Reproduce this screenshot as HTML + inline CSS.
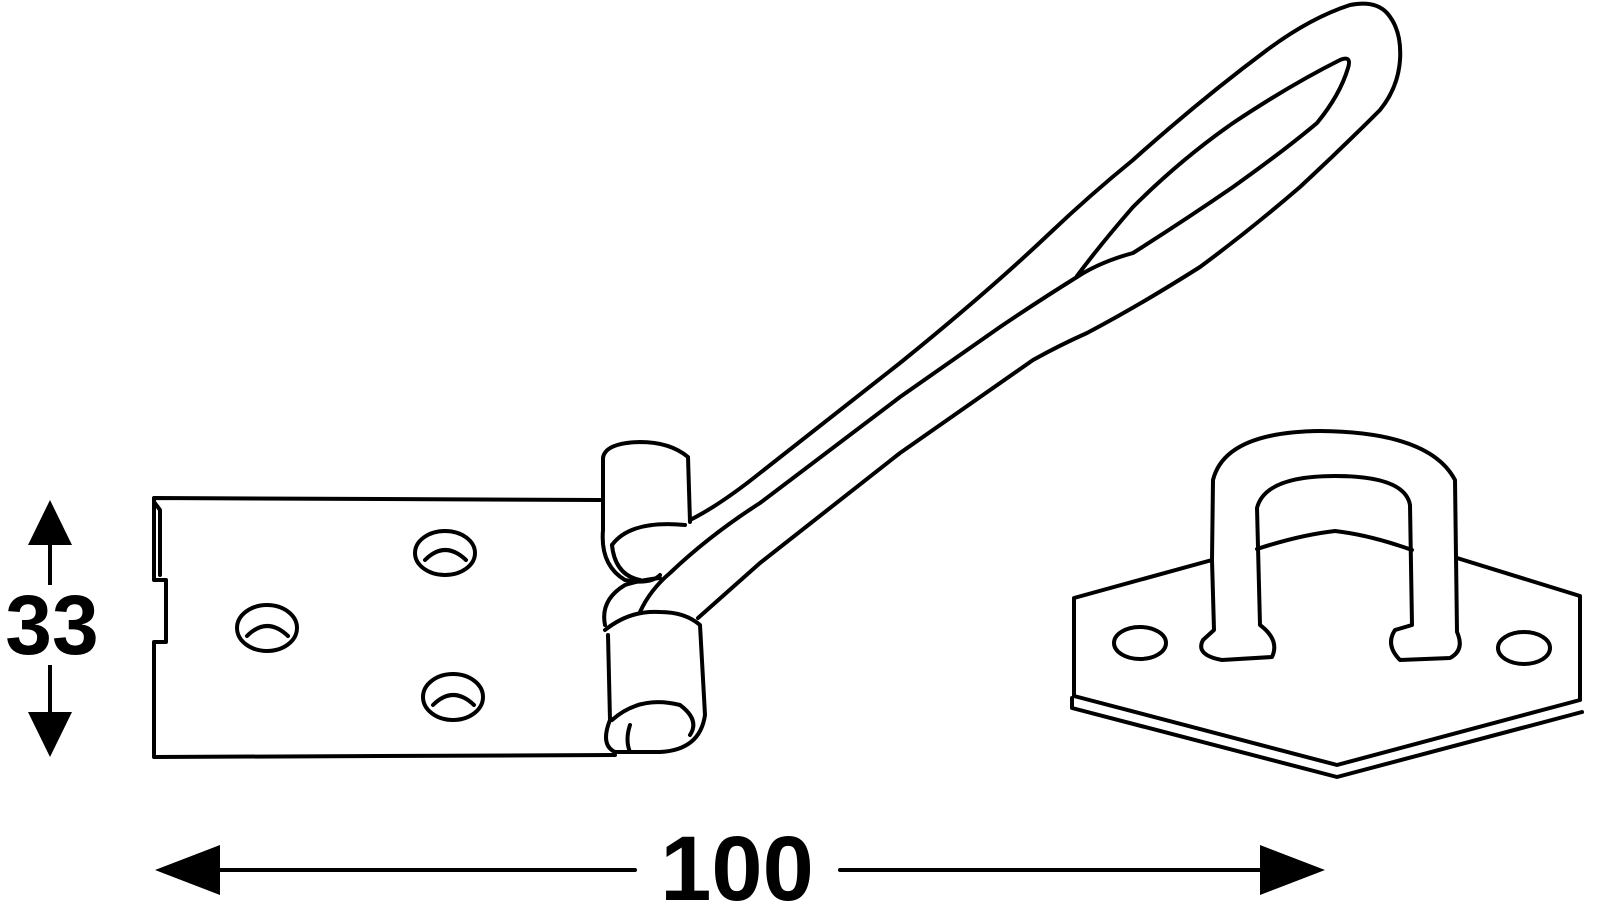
<!DOCTYPE html>
<html><head><style>html,body{margin:0;padding:0;background:#fff}svg{display:block}</style></head>
<body>
<svg width="1600" height="923" viewBox="0 0 1600 923" xmlns="http://www.w3.org/2000/svg">
<g fill="none" stroke="#000" stroke-width="4" stroke-linejoin="round" stroke-linecap="round">
<!-- plate -->
<path d="M600,500 L154,498 L154,580 L166,580 L166,642 L154,642 L154,757 L615,755"/>
<path d="M154,502 L160,510 L160,575"/>
<ellipse cx="445" cy="553" rx="30" ry="22"/>
<path d="M425,560 Q445,540 466,560"/>
<ellipse cx="267" cy="628" rx="30" ry="23"/>
<path d="M247,636 Q267,616 288,636"/>
<ellipse cx="453" cy="697" rx="30" ry="23"/>
<path d="M433,705 Q453,685 474,705"/>
<!-- upper knuckle -->
<path d="M603,530 L603,458 Q605,443 640,442 Q670,442 688,457 L690,522"/>
<path d="M603,530 Q600,565 625,580 Q650,585 660,575"/>
<path d="M612,545 Q630,520 685,525"/>
<path d="M612,545 Q615,575 640,580"/>
<!-- lower knuckle -->
<path d="M605,630 Q630,610 660,612 Q685,612 700,625 L705,715 Q700,750 660,752 L615,752 Q600,745 610,720 L608,635"/>
<path d="M612,720 Q640,695 680,705 Q700,720 690,735"/>
<path d="M630,752 Q625,740 630,725"/>
<path d="M605,625 Q600,600 625,585 Q640,580 660,578"/>
<!-- handle -->
<path d="M690,520 Q720,505 760,473 L900,363 Q990,290 1050,233 Q1090,195 1133,160 Q1200,100 1267,50 Q1310,18 1350,5 Q1375,0 1387,13 Q1402,30 1400,60 Q1398,88 1380,110 Q1340,150 1300,187 Q1250,230 1200,267 Q1140,305 1087,333 Q1060,345 1033,360 L900,453 L760,563 L698,618"/>
<path d="M640,612 Q650,590 670,573 Q710,535 760,503 L900,397 L1000,327 Q1040,300 1077,277 Q1100,262 1133,253 Q1185,220 1233,187 Q1285,150 1317,123 Q1340,95 1348,68 Q1352,55 1340,60 Q1290,85 1233,123 Q1180,160 1133,207 Q1100,245 1077,276"/>
<!-- dimension lines -->
<path d="M50,540 L50,715"/>
<path d="M200,870 L635,870"/>
<path d="M840,870 L1280,870"/>
<!-- eye plate -->
<path d="M1212,560 L1074,598 L1074,696 L1337,765 L1580,700 L1580,596 L1457,558"/>
<path d="M1072,698 L1072,708 L1337,777 L1582,712"/>
<path d="M1212,560 L1213,480 Q1225,432 1320,431 Q1430,432 1455,480 L1457,632 Q1465,650 1450,658 L1400,660 Q1385,645 1395,630 L1412,625 L1410,505 Q1405,476 1335,476 Q1265,476 1257,508 L1260,625 Q1280,640 1272,657 L1222,660 Q1195,655 1203,640 L1214,630 Z"/>
<path d="M1257,549 Q1300,535 1335,531 Q1370,535 1412,550"/>
<ellipse cx="1140" cy="643" rx="26" ry="16"/>
<ellipse cx="1524" cy="648" rx="26" ry="16"/>
</g>
<g fill="#000">
<polygon points="50,500 28,545 72,545"/>
<polygon points="50,757 28,712 72,712"/>
<polygon points="155,870 220,845 220,895"/>
<polygon points="1325,870 1260,845 1260,895"/>
</g>
<rect x="0" y="585" width="104" height="80" fill="#fff"/>
<text x="52" y="654" text-anchor="middle" font-family="Liberation Sans, sans-serif" font-weight="bold" font-size="84">33</text>
<text x="737" y="900" text-anchor="middle" font-family="Liberation Sans, sans-serif" font-weight="bold" font-size="92">100</text>
</svg>
</body></html>
